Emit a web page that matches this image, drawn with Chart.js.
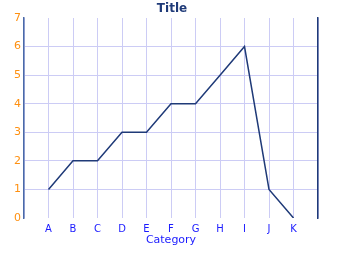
<!DOCTYPE html>
<html>
<head>
<meta charset="utf-8">
<script src="https://cdn.jsdelivr.net/npm/chart.js@4"></script>
<style>
  html, body { margin: 0; padding: 0; background: #fff; }
  #wrap { width: 344px; height: 253px; }
</style>
</head>
<body>
<div id="wrap"><canvas id="chart" width="344" height="253"></canvas></div>
<script>
const categories = ['A', 'B', 'C', 'D', 'E', 'F', 'G', 'H', 'I', 'J', 'K'];
const values = [1, 2, 2, 3, 3, 4, 4, 5, 6, 1, 0];
const yTicks = [0, 1, 2, 3, 4, 5, 6, 7];

// one empty slot on each side of the categories
const labels = [''].concat(categories, ['']);
const data = [null].concat(values, [null]);

const gridColor = '#ccccf5';

const config = {
  type: 'line',
  data: {
    labels: labels,
    datasets: [
      {
        label: 'Series',
        data: data,
        borderColor: '#1f3a78',
        borderWidth: 1.5,
        pointRadius: 0,
        tension: 0,
        spanGaps: false,
      },
    ],
  },
  options: {
    responsive: false,
    animation: false,
    layout: { padding: 0 },
    plugins: {
      legend: { display: false },
      tooltip: { enabled: false },
      title: {
        display: true,
        text: 'Title',
        color: '#1f3a78',
        font: { family: 'DejaVu Sans', size: 12, weight: 'bold' },
        padding: { top: 2, bottom: 1.6 },
      },
    },
    scales: {
      x: {
        type: 'category',
        offset: false,
        border: { display: false },
        grid: { color: gridColor, drawTicks: false },
        ticks: {
          color: '#1a1aff',
          font: { family: 'DejaVu Sans', size: 10 },
          padding: 5,
          maxRotation: 0,
          autoSkip: false,
        },
        title: {
          display: true,
          text: 'Category',
          color: '#1a1aff',
          font: { family: 'DejaVu Sans', size: 11 },
          padding: { top: 0, bottom: 6 },
        },
        afterFit: (scale) => { scale.height = 35; },
      },
      y: {
        position: 'left',
        min: 0,
        max: 7,
        afterBuildTicks: (scale) => { scale.ticks = yTicks.map(v => ({ value: v })); },
        border: { display: true, color: '#4a6aa8', width: 1.5 },
        grid: {
          drawTicks: false,
          color: (ctx) => (ctx.index === 0 || ctx.index === yTicks.length - 1) ? 'rgba(0,0,0,0)' : gridColor,
        },
        ticks: {
          color: '#ff9010',
          font: { family: 'DejaVu Sans', size: 11 },
          padding: 3,
        },
        afterFit: (scale) => { scale.width = 24; },
      },
      y2: {
        position: 'right',
        min: 0,
        max: 7,
        border: { display: true, color: '#1f3a78', width: 1.5 },
        grid: { display: false, drawTicks: false },
        ticks: { display: false },
        afterFit: (scale) => { scale.width = 26; },
      },
    },
  },
};

const ctx = document.getElementById('chart');
window.myLine = new Chart(ctx, config);
</script>
</body>
</html>
